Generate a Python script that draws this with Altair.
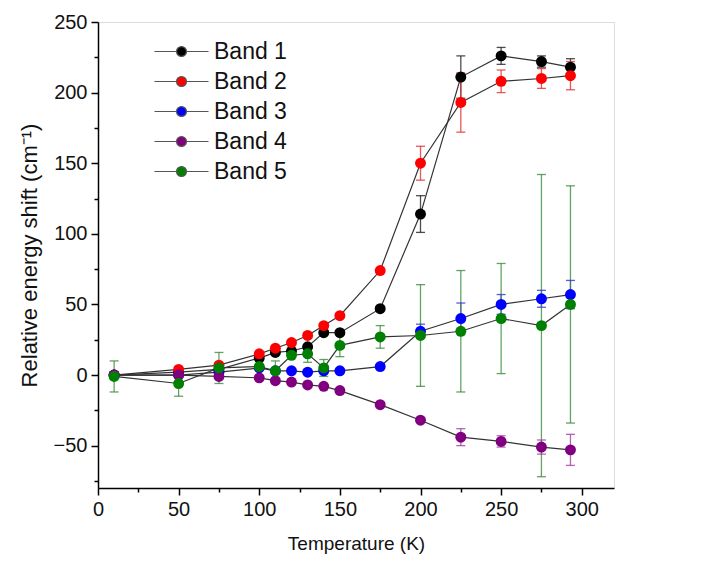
import altair as alt
import pandas as pd

temps = [10, 50, 75, 100, 110, 120, 130, 140, 150, 175, 200, 225, 250, 275, 293]
bands = ["Band 1", "Band 2", "Band 3", "Band 4", "Band 5"]

band1 = [0, 2, 4, 12, 16, 17, 20, 30, 30, 47, 114, 211, 226, 222, 218]
band2 = [0, 4, 7, 15, 19, 23, 28, 35, 42, 74, 150, 193, 208, 210, 212]
band3 = [0, 0, 2, 5, 3, 3, 2, 3, 3, 6, 31, 40, 50, 54, 57]
band4 = [0, 0, -1, -2, -4, -5, -7, -8, -11, -21, -32, -44, -47, -51, -53]
band5 = [-1, -6, 5, 6, 3, 14, 15, 5, 21, 27, 28, 31, 40, 35, 50]

err1 = [0, 0, 0, 0, 0, 0, 0, 0, 0, 0, 13, 15, 6, 4, 6]
err2 = [0, 0, 0, 0, 0, 0, 0, 0, 0, 0, 12, 21, 8, 7, 10]
err3 = [0, 0, 0, 0, 0, 0, 0, 0, 0, 0, 5, 11, 7, 6, 10]
err4 = [0, 0, 0, 0, 0, 0, 0, 0, 0, 0, 0, 6, 4, 5, 11]
err5 = [11, 9, 11, 0, 7, 0, 6, 6, 8, 8, 36, 43, 39, 107, 84]

x_major = [0, 50, 100, 150, 200, 250, 300]
x_minor = [25, 75, 125, 175, 225, 275]
y_major = [-50, 0, 50, 100, 150, 200, 250]
y_minor = [-75, -25, 25, 75, 125, 175, 225]

point_colors = ["#000000", "#ff0000", "#0000ff", "#800080", "#008000"]
error_colors = ["#222222", "#e03030", "#3030e0", "#a040a0", "#3c8c3c"]

rows = []
for name, vals, errs, ecol in zip(bands, [band1, band2, band3, band4, band5],
                                  [err1, err2, err3, err4, err5], error_colors):
    for t, v, e in zip(temps, vals, errs):
        rows.append({"T": t, "shift": v, "err": e, "Band": name,
                     "lo": v - e, "hi": v + e, "ecol": ecol})
df = pd.DataFrame(rows)

FONT = "Liberation Sans"

xscale = alt.Scale(domain=[0, 320], nice=False, zero=False)
yscale = alt.Scale(domain=[-80, 250], nice=False, zero=False)

common = dict(
    grid=False, labelOverlap=False,
    labelFontSize=20, labelFont=FONT, titleFont=FONT,
    titleFontWeight="normal", labelColor="#111", titleColor="#111",
    domainColor="#000", tickColor="#000", domainWidth=1.5, tickWidth=1.5,
    labelPadding=4, labelFlush=False, tickSize=7,
)
xaxis = alt.Axis(values=x_major, title="Temperature (K)", titlePadding=15,
                 titleFontSize=19, orient="bottom", **common)
yaxis = alt.Axis(values=y_major, title="Relative energy shift (cm⁻¹)",
                 titlePadding=12, titleFontSize=22, orient="left", **common)
minor_common = dict(grid=False, labels=False, domain=False, title=None,
                    tickSize=4, tickWidth=1.5, tickColor="#000")
xaxis_minor = alt.Axis(values=x_minor, orient="bottom", **minor_common)
yaxis_minor = alt.Axis(values=y_minor, orient="left", **minor_common)

base = alt.Chart(df)

lines = base.mark_line(strokeWidth=1.2).encode(
    x=alt.X("T:Q", scale=xscale, axis=xaxis),
    y=alt.Y("shift:Q", scale=yscale, axis=yaxis),
    detail="Band:N",
    order="T:Q",
    color=alt.value("#333333"),
)

minor_layer = base.mark_point(opacity=0).encode(
    x=alt.X("T:Q", scale=xscale, axis=xaxis_minor),
    y=alt.Y("shift:Q", scale=yscale, axis=yaxis_minor),
)

err_data = base.transform_filter("datum.err > 0")
ecolor = alt.Color("ecol:N", scale=None)
err_rules = err_data.mark_rule(strokeWidth=1.3, opacity=0.8).encode(
    x=alt.X("T:Q", axis=None), y=alt.Y("lo:Q", axis=None), y2="hi:Q", color=ecolor)
cap_lo = err_data.mark_tick(orient="horizontal", size=9, thickness=1.3, opacity=0.8).encode(
    x=alt.X("T:Q", axis=None), y=alt.Y("lo:Q", axis=None), color=ecolor)
cap_hi = err_data.mark_tick(orient="horizontal", size=9, thickness=1.3, opacity=0.8).encode(
    x=alt.X("T:Q", axis=None), y=alt.Y("hi:Q", axis=None), color=ecolor)

legend_path = ("M-3,0L-0.55,0M0.55,0L3,0"
               "M-0.55,0A0.55,0.55,0,1,1,0.55,0A0.55,0.55,0,1,1,-0.55,0Z")
points = base.mark_circle(size=120, opacity=1).encode(
    x=alt.X("T:Q", axis=None), y=alt.Y("shift:Q", axis=None),
    fill=alt.Fill("Band:N", scale=alt.Scale(domain=bands, range=point_colors),
                  legend=alt.Legend(title=None, orient="none", legendX=72, legendY=18,
                                    symbolType=legend_path, symbolSize=324,
                                    symbolStrokeColor="#555555", symbolStrokeWidth=1.2,
                                    labelOffset=21, labelFontSize=23, labelFont=FONT,
                                    labelColor="#111", rowPadding=6)),
)

chart = alt.layer(lines, minor_layer, err_rules, cap_lo, cap_hi, points).resolve_axis(
    x="independent", y="independent"
).properties(
    width=516, height=466,
    padding={"left": 98, "top": 22, "right": 100, "bottom": 74},
    autosize=alt.AutoSizeParams(type="none"),
).configure_view(stroke=None).configure(background="white")

chart.save("out.html", embed_options={"renderer": "svg", "actions": False})
